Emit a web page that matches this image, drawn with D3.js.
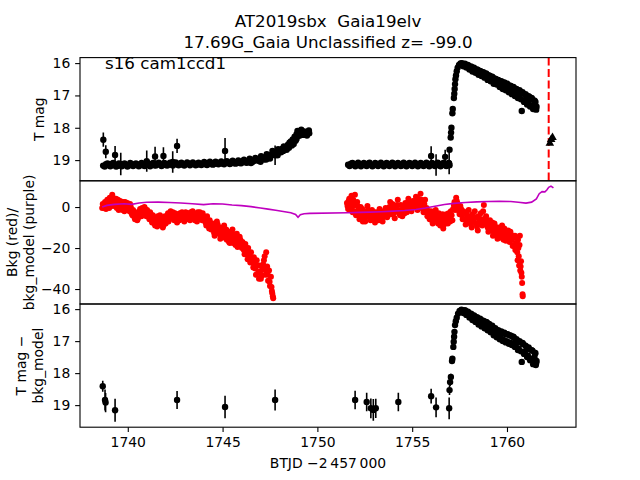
<!DOCTYPE html>
<html>
<head>
<meta charset="utf-8">
<script src="https://cdnjs.cloudflare.com/ajax/libs/d3/7.8.5/d3.min.js"></script>
<style>
  body { margin: 0; background: #fff; }
  text { font-family: "DejaVu Sans", sans-serif; white-space: pre; }
</style>
</head>
<body>
<div id="chart"></div>
<script>

// figure size and margins (matplotlib default subplot box)
const width = 640;
const height = 480;
const margin = {left: 80, right: 64, top: 57.6, bottom: 52.8};
const panelH = (height - margin.top - margin.bottom) / 3;

// text
const titleLines = ["AT2019sbx  Gaia19elv", "17.69G_Gaia Unclassified z= -99.0"];
const sectorLabel = "s16 cam1ccd1";
const xLabel = "BTJD \u22122\u2009457\u2009000";

// axis limits and ticks
const xLimits = [1737.48, 1763.64];
const xTicks = [1740, 1745, 1750, 1755, 1760];
const magLimits1 = [15.83, 19.64];
const bkgLimits = [-47.3, 12.8];
const magLimits3 = [15.84, 19.69];
const magTicks = [16, 17, 18, 19];
const bkgTicks = [0, -20, -40];
const vlineTime = 1762.2;

// panel 1: T mag, quiescent part of orbit 1  [t, mag]
const lcBaseA = [
  [1738.70,19.17],[1738.85,19.13],[1739.00,19.16],[1739.15,19.12],[1739.30,19.15],[1739.45,19.18],
  [1739.60,19.13],[1739.75,19.16],[1739.90,19.14],[1740.05,19.17],[1740.20,19.12],[1740.35,19.15],
  [1740.50,19.13],[1740.65,19.16],[1740.80,19.14],[1740.95,19.11],[1741.10,19.15],[1741.25,19.13],
  [1741.40,19.16],[1741.55,19.12],[1741.70,19.14],[1741.85,19.11],[1742.00,19.15],[1742.15,19.12],
  [1742.30,19.14],[1742.45,19.10],[1742.60,19.13],[1742.75,19.11],[1742.90,19.14],[1743.05,19.12],
  [1743.20,19.10],[1743.35,19.13],[1743.50,19.11],[1743.65,19.14],[1743.80,19.12],[1743.95,19.10],
  [1744.10,19.13],[1744.25,19.11],[1744.40,19.09],[1744.55,19.12],[1744.70,19.10],[1744.85,19.08],
  [1745.00,19.11],[1745.15,19.09],[1745.30,19.07],[1745.45,19.10],[1745.60,19.08],[1745.75,19.06],
  [1745.90,19.09],[1746.05,19.05],[1746.20,19.07],[1746.35,19.03],[1746.50,19.00],[1746.65,19.03],
  [1746.80,18.98],[1746.95,18.99],[1747.10,18.94],[1747.25,18.92],[1747.40,18.86],[1747.55,18.84],
  [1747.70,18.78],[1747.85,18.74],[1748.00,18.70],[1748.15,18.65],[1748.30,18.60],[1748.45,18.52],
  [1748.60,18.42],[1748.70,18.36],[1748.80,18.28],[1748.90,18.20],[1749.00,18.14],[1749.10,18.12],
  [1749.20,18.16],[1749.30,18.11],[1749.40,18.15],[1749.50,18.13],[1749.57,18.17],
  [1746.50,19.09],[1747.00,19.05],[1747.30,18.98],[1747.50,18.95],[1747.90,18.85],[1748.20,18.72],
  [1748.50,18.62],[1748.75,18.50],[1748.90,18.35],[1749.05,18.25],[1749.25,18.22],[1749.45,18.24]
];

const lcBaseA2 = [
  [1738.78,19.20],[1738.93,19.10],[1739.08,19.19],[1739.23,19.09],[1739.38,19.20],[1739.53,19.10],
  [1739.68,19.19],[1739.83,19.10],[1739.98,19.20],[1740.13,19.09],[1740.28,19.18],[1740.43,19.10],
  [1740.58,19.19],[1740.73,19.09],[1740.88,19.18],[1741.03,19.08],[1741.18,19.19],[1741.33,19.09],
  [1741.48,19.17],[1741.63,19.08],[1741.78,19.18],[1741.93,19.09],[1742.08,19.17],[1742.23,19.08],
  [1742.38,19.17],[1742.53,19.07],[1742.68,19.16],[1742.83,19.08],[1742.98,19.17],[1743.13,19.07],
  [1743.28,19.16],[1743.43,19.07],[1743.58,19.16],[1743.73,19.08],[1743.88,19.15],[1744.03,19.06],
  [1744.18,19.15],[1744.33,19.05],[1744.48,19.14],[1744.63,19.05],[1744.78,19.13],[1744.93,19.04],
  [1745.08,19.13],[1745.23,19.03],[1745.38,19.12],[1745.53,19.02],[1745.68,19.11],[1745.83,19.01],
  [1745.98,19.10],[1746.13,18.99],[1746.28,19.08],[1746.43,18.96],[1746.58,19.05],[1746.73,18.93],
  [1746.88,19.02],[1747.03,18.88],[1747.18,18.98],[1747.33,18.82],[1747.48,18.90],[1747.63,18.72],
  [1747.78,18.82],[1747.93,18.66],[1748.08,18.76],[1748.23,18.58],[1748.38,18.68],[1748.53,18.46],
  [1748.65,18.55],[1748.85,18.40],[1748.95,18.10],[1749.15,18.06],[1749.35,18.20],[1749.55,18.08]
];

// panel 1: quiescent part of orbit 2
const lcBaseB = [
  [1751.62,19.14],[1751.77,19.11],[1751.92,19.15],[1752.07,19.12],[1752.22,19.16],[1752.37,19.13],
  [1752.52,19.15],[1752.67,19.11],[1752.82,19.14],[1752.97,19.16],[1753.12,19.12],[1753.27,19.15],
  [1753.42,19.13],[1753.57,19.16],[1753.72,19.12],[1753.87,19.14],[1754.02,19.11],[1754.17,19.15],
  [1754.32,19.13],[1754.47,19.16],[1754.62,19.12],[1754.77,19.14],[1754.92,19.11],[1755.07,19.15],
  [1755.22,19.13],[1755.37,19.16],[1755.52,19.12],[1755.67,19.14],[1755.82,19.15],[1755.97,19.12],
  [1756.12,19.15],[1756.27,19.13],[1756.42,19.16],[1756.57,19.12],[1756.72,19.15],[1756.87,19.13],
  [1756.97,19.16]
];

const lcBaseB2 = [
  [1751.70,19.18],[1751.85,19.09],[1752.00,19.19],[1752.15,19.08],[1752.30,19.19],[1752.45,19.09],
  [1752.60,19.18],[1752.75,19.08],[1752.90,19.19],[1753.05,19.09],[1753.20,19.18],[1753.35,19.08],
  [1753.50,19.19],[1753.65,19.09],[1753.80,19.18],[1753.95,19.08],[1754.10,19.19],[1754.25,19.09],
  [1754.40,19.18],[1754.55,19.08],[1754.70,19.19],[1754.85,19.09],[1755.00,19.18],[1755.15,19.08],
  [1755.30,19.19],[1755.45,19.09],[1755.60,19.18],[1755.75,19.08],[1755.90,19.19],[1756.05,19.09],
  [1756.20,19.18],[1756.35,19.08],[1756.50,19.19],[1756.65,19.09],[1756.80,19.18],[1756.92,19.09]
];

// panel 1: outburst rise and decline
const lcBurst = [
  [1756.97,18.68],[1757.03,18.30],[1757.05,18.15],[1757.07,18.00],[1757.12,17.55],[1757.14,17.42],
  [1757.20,17.08],[1757.22,16.95],[1757.24,16.80],[1757.26,16.65],[1757.28,16.50],[1757.31,16.38],
  [1757.35,16.25],[1757.40,16.14],[1757.47,16.06],[1757.55,16.01],[1757.62,16.00],
  [1757.66,16.03],[1757.74,16.07],[1757.82,16.05],[1757.90,16.12],[1757.98,16.09],[1758.06,16.17],
  [1758.14,16.13],[1758.22,16.22],[1758.30,16.18],[1758.38,16.27],[1758.46,16.21],[1758.54,16.31],
  [1758.62,16.26],[1758.70,16.36],[1758.78,16.30],[1758.86,16.42],[1758.94,16.35],[1759.02,16.48],
  [1759.10,16.40],[1759.18,16.53],[1759.26,16.45],[1759.34,16.60],[1759.42,16.50],[1759.50,16.64],
  [1759.58,16.55],[1759.66,16.70],[1759.74,16.58],[1759.82,16.75],[1759.90,16.63],[1759.98,16.80],
  [1760.06,16.68],[1760.14,16.85],[1760.22,16.72],[1760.30,16.92],[1760.38,16.78],[1760.46,16.98],
  [1760.54,16.84],[1760.62,17.05],[1760.70,16.88],[1760.78,17.48],[1760.86,16.95],[1760.94,17.15],
  [1761.02,17.00],[1761.10,17.22],[1761.18,17.05],[1761.26,17.30],[1761.34,17.12],[1761.42,17.38],
  [1761.50,17.20],[1761.56,17.35]
];

const lcBurst2 = [
  [1757.70,16.10],[1757.78,16.02],[1757.86,16.14],[1757.94,16.06],[1758.02,16.20],[1758.10,16.10],
  [1758.18,16.26],[1758.26,16.14],[1758.34,16.30],[1758.42,16.20],[1758.50,16.36],[1758.58,16.24],
  [1758.66,16.40],[1758.74,16.28],[1758.82,16.45],[1758.90,16.32],[1758.98,16.52],[1759.06,16.38],
  [1759.14,16.56],[1759.22,16.42],[1759.30,16.64],[1759.38,16.48],[1759.46,16.66],[1759.54,16.52],
  [1759.62,16.74],[1759.70,16.56],[1759.78,16.80],[1759.86,16.60],[1759.94,16.84],[1760.02,16.64],
  [1760.10,16.90],[1760.18,16.70],[1760.26,16.96],[1760.34,16.74],[1760.42,17.02],[1760.50,16.80],
  [1760.58,17.08],[1760.66,16.84],[1760.74,17.12],[1760.82,16.90],[1760.90,17.20],[1760.98,16.96],
  [1761.06,17.28],[1761.14,17.02],[1761.22,17.34],[1761.30,17.08],[1761.38,17.42],[1761.46,17.16],
  [1761.54,17.44]
];

// panel 1: points with visible error bars  [t, mag, err]
const lcErrPts = [
  [1738.71,18.37,0.22],[1738.84,18.74,0.20],[1739.33,18.84,0.28],[1739.63,19.12,0.35],
  [1741.00,19.03,0.33],[1741.44,18.89,0.30],[1741.88,18.87,0.27],[1742.37,19.06,0.33],
  [1742.60,18.56,0.22],[1745.13,18.72,0.40],[1747.77,18.85,0.30],
  [1756.00,18.87,0.30],[1756.26,19.15,0.33],[1756.74,18.90,0.22],[1756.95,19.10,0.34]
];

// panel 1: upper limits (triangles)
const lcLimits = [[1762.26,18.48],[1762.33,18.36],[1762.40,18.30]];

// panel 2: background flux (red)  [t, value]
const bkgA = [
  [1738.65,-0.5],[1738.72,1.0],[1738.80,2.5],[1738.85,-1.0],[1738.92,3.5],[1739.00,1.0],[1739.05,4.5],
  [1739.12,2.0],[1739.18,6.0],[1739.25,3.0],[1739.30,0.5],[1739.38,4.0],[1739.45,1.5],[1739.52,-1.5],
  [1739.60,3.0],[1739.68,0.0],[1739.75,2.5],[1739.82,-2.0],[1739.90,1.0],[1739.98,2.0],[1740.05,-0.5],
  [1740.12,1.5],[1740.20,-3.0],[1740.28,-1.5],[1740.35,-5.0],[1740.42,-2.5],[1740.50,-6.5],[1740.58,-3.5],
  [1740.65,-1.0],[1740.72,-4.5],[1740.80,-2.0],[1740.88,0.0],[1740.95,-3.0],[1741.02,-1.5],[1741.10,-4.5],
  [1741.18,-2.5],[1741.25,-6.0],[1741.32,-4.0],[1741.40,-8.0],[1741.48,-5.5],[1741.55,-9.5],[1741.62,-6.5],
  [1741.70,-4.0],[1741.78,-8.5],[1741.85,-10.0],[1741.92,-6.0],[1742.00,-8.0],[1742.08,-4.5],[1742.15,-7.0],
  [1742.22,-3.0],[1742.30,-5.5],[1742.38,-2.5],[1742.45,-6.5],[1742.52,-4.0],[1742.60,-7.5],[1742.68,-5.0],
  [1742.75,-3.0],[1742.82,-6.0],[1742.90,-4.0],[1742.98,-7.0],[1743.05,-2.5],[1743.12,-5.0],[1743.20,-3.5],
  [1743.28,-6.5],[1743.35,-4.5],[1743.42,-2.0],[1743.50,-5.5],[1743.58,-3.5],[1743.65,-7.0],[1743.72,-4.0],
  [1743.80,-2.5],[1743.88,-6.0],[1743.95,-3.0],[1744.02,-5.0],[1744.10,-7.5],[1744.18,-4.5],[1744.25,-9.0],
  [1744.32,-6.5],[1744.40,-11.0],[1744.48,-8.0],[1744.55,-12.5],[1744.62,-9.5],[1744.70,-7.0],[1744.78,-13.0],
  [1744.85,-10.0],[1744.92,-14.5],[1745.00,-11.5],[1745.08,-9.0],[1745.15,-13.5],[1745.22,-16.0],[1745.30,-12.0],
  [1745.38,-17.5],[1745.45,-14.0],[1745.52,-11.0],[1745.60,-15.5],[1745.68,-18.5],[1745.75,-13.0],[1745.82,-16.5],
  [1745.90,-14.5],[1745.98,-19.0],[1746.05,-17.0],[1746.12,-21.0],[1746.20,-18.0],[1746.28,-23.0],[1746.35,-20.0],
  [1746.42,-25.0],[1746.50,-22.0],[1746.58,-27.0],[1746.65,-24.5],[1746.72,-30.0],[1746.80,-26.0],[1746.88,-32.0],
  [1746.95,-28.5],[1747.02,-35.0],[1747.10,-30.5],[1747.18,-26.0],[1747.25,-33.0],[1747.30,-22.0],[1747.35,-29.0],
  [1747.40,-36.0],[1747.45,-31.0],[1747.50,-38.5],[1747.55,-34.0],[1747.60,-41.0],[1747.65,-43.5],[1747.67,-44.5]
];

const bkgA2 = [
  [1738.68,1.5],[1738.76,-0.5],[1738.88,0.5],[1738.96,2.0],[1739.02,-0.5],[1739.09,3.5],[1739.15,0.5],
  [1739.22,4.5],[1739.28,1.5],[1739.35,2.5],[1739.42,-0.5],[1739.48,3.5],[1739.56,0.5],[1739.64,1.5],
  [1739.72,-1.5],[1739.78,0.5],[1739.86,2.5],[1739.94,-1.0],[1740.02,0.5],[1740.09,-2.0],[1740.16,0.0],
  [1740.24,-4.0],[1740.32,-2.5],[1740.38,-6.0],[1740.46,-4.0],[1740.54,-5.5],[1740.62,-2.0],[1740.69,-3.0],
  [1740.76,-0.5],[1740.84,-3.5],[1740.92,-1.0],[1740.98,-4.5],[1741.06,-3.0],[1741.14,-6.0],[1741.21,-3.5],
  [1741.28,-7.5],[1741.36,-5.0],[1741.44,-9.0],[1741.51,-7.0],[1741.58,-4.5],[1741.66,-8.0],[1741.74,-5.5],
  [1741.81,-7.0],[1741.88,-9.0],[1741.96,-4.5],[1742.04,-6.5],[1742.12,-3.0],[1742.19,-5.5],[1742.26,-2.0],
  [1742.34,-4.5],[1742.42,-6.0],[1742.49,-3.0],[1742.56,-5.5],[1742.64,-3.5],[1742.72,-6.5],[1742.79,-4.5],
  [1742.86,-2.5],[1742.94,-5.5],[1743.02,-4.0],[1743.09,-6.0],[1743.16,-3.0],[1743.24,-5.0],[1743.32,-2.5],
  [1743.39,-5.5],[1743.46,-3.5],[1743.54,-6.5],[1743.62,-5.0],[1743.69,-2.5],[1743.76,-5.5],[1743.84,-4.0],
  [1743.92,-6.5],[1743.98,-4.5],[1744.06,-6.0],[1744.14,-9.0],[1744.22,-6.5],[1744.29,-10.5],[1744.36,-8.0],
  [1744.44,-9.5],[1744.52,-11.0],[1744.58,-14.0],[1744.66,-11.5],[1744.74,-8.5],[1744.82,-12.0],[1744.88,-15.5],
  [1744.96,-13.0],[1745.04,-10.0],[1745.12,-15.0],[1745.19,-11.0],[1745.26,-14.5],[1745.34,-17.0],[1745.42,-15.5],
  [1745.49,-12.5],[1745.56,-17.5],[1745.64,-14.0],[1745.72,-16.0],[1745.79,-19.5],[1745.86,-18.0],[1745.94,-16.0],
  [1746.02,-20.0],[1746.09,-18.5],[1746.16,-23.0],[1746.24,-20.5],[1746.32,-25.5],[1746.38,-22.5],[1746.46,-27.0],
  [1746.54,-24.5],[1746.62,-29.5],[1746.69,-27.0],[1746.76,-33.0],[1746.84,-28.5],[1746.92,-35.0],[1746.98,-31.5],
  [1747.06,-33.5],[1747.14,-28.0],[1747.22,-24.0],[1747.28,-30.5],[1747.38,-33.0],[1747.48,-36.5],[1747.58,-39.0],
  [1747.62,-42.0]
];

const bkgB = [
  [1751.56,2.0],[1751.62,-1.0],[1751.68,4.0],[1751.74,0.5],[1751.80,5.5],[1751.86,-2.5],[1751.92,1.5],
  [1751.98,6.0],[1752.04,-4.0],[1752.10,2.5],[1752.16,-1.5],[1752.22,-6.0],[1752.28,0.0],[1752.34,-3.5],
  [1752.40,-7.0],[1752.48,-2.0],[1752.56,-5.0],[1752.64,0.5],[1752.72,-3.0],[1752.80,-6.5],[1752.88,-1.5],
  [1752.96,-4.5],[1753.04,-7.5],[1753.12,-2.5],[1753.20,-5.5],[1753.28,-1.0],[1753.36,-4.0],[1753.44,-7.0],
  [1753.52,-3.0],[1753.60,-0.5],[1753.68,-5.0],[1753.76,-2.0],[1753.84,2.5],[1753.92,-3.5],[1754.00,0.0],
  [1754.08,-5.5],[1754.16,-1.5],[1754.24,3.5],[1754.32,-3.0],[1754.40,1.0],[1754.48,-4.5],[1754.56,-1.0],
  [1754.64,2.0],[1754.72,-2.5],[1754.80,4.0],[1754.88,0.5],[1754.96,-2.0],[1755.04,3.0],[1755.12,0.0],
  [1755.20,5.0],[1755.28,-1.5],[1755.36,2.5],[1755.44,6.5],[1755.52,0.5],[1755.60,-2.5],[1755.68,3.5],
  [1755.76,-0.5],[1755.84,-3.5],[1755.92,-6.0],[1756.00,-2.0],[1756.08,-8.0],[1756.16,-4.5],[1756.24,-1.5],
  [1756.32,-6.5],[1756.40,-3.0],[1756.48,-9.0],[1756.56,-5.5],[1756.64,-10.5],[1756.72,-7.0],[1756.80,-3.5],
  [1756.88,-8.0],[1756.96,-5.0],[1757.04,-2.0],[1757.12,-6.5],[1757.20,1.0],[1757.26,-1.5],[1757.32,4.5],
  [1757.38,2.0],[1757.44,-0.5],[1757.50,-3.5],[1757.58,-1.0],[1757.66,-6.0],[1757.74,-3.0],[1757.82,-8.5],
  [1757.90,-4.5],[1757.98,-1.5],[1758.06,-7.0],[1758.14,-10.0],[1758.22,-5.0],[1758.30,-2.0],[1758.38,-8.0],
  [1758.46,-11.5],[1758.54,-6.0],[1758.62,-3.0],[1758.70,-9.0],[1758.78,1.0],[1758.86,-5.5],[1758.94,-8.5],
  [1759.02,-12.0],[1759.10,-6.5],[1759.18,-9.5],[1759.26,-14.0],[1759.34,-8.0],[1759.42,-11.5],[1759.50,-15.5],
  [1759.58,-10.0],[1759.66,-13.0],[1759.74,-9.0],[1759.82,-16.0],[1759.90,-12.0],[1759.98,-14.5],[1760.06,-11.5],
  [1760.14,-17.0],[1760.22,-13.5],[1760.30,-19.0],[1760.38,-15.0],[1760.44,-21.0],[1760.50,-17.5],[1760.56,-26.0],
  [1760.60,-20.0],[1760.64,-28.5],[1760.68,-14.0],[1760.70,-31.0],[1760.74,-26.5],[1760.78,-34.0],[1760.80,-37.0],
  [1760.82,-42.5],[1760.83,-43.5]
];

const bkgB2 = [
  [1751.59,0.5],[1751.65,3.0],[1751.71,-1.5],[1751.77,2.5],[1751.83,0.0],[1751.89,3.5],[1751.95,-2.0],
  [1752.01,1.0],[1752.07,-2.5],[1752.13,0.5],[1752.19,-4.0],[1752.25,-2.0],[1752.31,-5.0],[1752.37,-1.0],
  [1752.44,-4.5],[1752.52,-7.0],[1752.60,-3.0],[1752.68,-1.5],[1752.76,-5.0],[1752.84,-3.5],[1752.92,-6.0],
  [1753.00,-2.5],[1753.08,-5.0],[1753.16,-4.0],[1753.24,-6.5],[1753.32,-3.0],[1753.40,-5.5],[1753.48,-2.0],
  [1753.56,-4.5],[1753.64,-2.5],[1753.72,-4.0],[1753.80,0.0],[1753.88,-1.5],[1753.96,1.5],[1754.04,-3.0],
  [1754.12,-1.0],[1754.20,1.0],[1754.28,-1.5],[1754.36,-4.0],[1754.44,-2.0],[1754.52,0.5],[1754.60,-3.0],
  [1754.68,0.0],[1754.76,2.0],[1754.84,-1.5],[1754.92,2.5],[1755.00,-0.5],[1755.08,1.5],[1755.16,3.0],
  [1755.24,0.5],[1755.32,4.0],[1755.40,1.0],[1755.48,3.5],[1755.56,-1.0],[1755.64,1.5],[1755.72,-2.0],
  [1755.80,-4.5],[1755.88,-2.0],[1755.96,-4.0],[1756.04,-6.5],[1756.12,-3.5],[1756.20,-6.0],[1756.28,-3.5],
  [1756.36,-8.0],[1756.44,-5.0],[1756.52,-7.5],[1756.60,-3.5],[1756.68,-8.5],[1756.76,-5.5],[1756.84,-6.5],
  [1756.92,-3.0],[1757.00,-7.0],[1757.08,-4.0],[1757.16,-1.0],[1757.23,2.5],[1757.29,0.0],[1757.35,3.0],
  [1757.41,0.5],[1757.47,-2.0],[1757.54,0.5],[1757.62,-4.0],[1757.70,-2.0],[1757.78,-6.0],[1757.86,-3.0],
  [1757.94,-7.0],[1758.02,-4.5],[1758.10,-8.5],[1758.18,-3.5],[1758.26,-7.0],[1758.34,-5.0],[1758.42,-9.5],
  [1758.50,-4.5],[1758.58,-8.0],[1758.66,-6.0],[1758.74,-2.0],[1758.82,-7.0],[1758.90,-4.5],[1758.98,-10.0],
  [1759.06,-8.0],[1759.14,-11.0],[1759.22,-7.5],[1759.30,-12.0],[1759.38,-9.5],[1759.46,-13.5],[1759.54,-12.0],
  [1759.62,-15.0],[1759.70,-11.0],[1759.78,-13.5],[1759.86,-10.5],[1759.94,-16.5],[1760.02,-13.0],[1760.10,-15.5],
  [1760.18,-12.0],[1760.26,-16.0],[1760.34,-18.5],[1760.42,-14.0],[1760.48,-19.5],[1760.54,-22.0],[1760.58,-16.0],
  [1760.62,-24.0],[1760.66,-18.5],[1760.72,-29.0],[1760.76,-32.0]
];

// panel 2: background model (purple line)
const bkgModel = [
  [1738.65,0.0],[1738.9,0.8],[1739.3,1.3],[1739.8,1.6],[1740.2,1.3],[1740.6,2.0],[1741.0,2.3],[1741.6,2.4],
  [1742.2,2.2],[1742.8,2.0],[1743.4,1.6],[1744.0,1.2],[1744.5,1.6],[1745.0,1.5],[1745.5,1.0],[1746.0,0.7],
  [1746.5,0.2],[1747.0,-0.5],[1747.4,-1.0],[1747.8,-1.6],[1748.2,-2.2],[1748.6,-2.8],[1748.85,-3.6],
  [1748.98,-5.0],[1749.1,-3.8],[1749.3,-3.3],[1749.6,-3.1],[1751.6,-2.8],[1752.2,-2.6],[1752.8,-2.5],
  [1753.4,-2.3],[1754.0,-2.0],[1754.6,-1.7],[1755.2,-1.2],[1755.7,-0.5],[1756.2,0.4],[1756.7,1.2],
  [1757.2,1.8],[1757.8,2.2],[1758.4,2.5],[1759.0,2.7],[1759.6,2.8],[1760.2,2.7],[1760.6,2.3],[1761.0,1.9],
  [1761.3,2.4],[1761.55,4.0],[1761.7,6.5],[1761.85,7.5],[1762.0,7.4],[1762.1,8.3],[1762.2,9.6],
  [1762.32,10.2],[1762.45,9.3]
];

// panel 3: T mag - bkg_model, points with error bars  [t, mag, err]
const diffErrPts = [
  [1738.68,18.41,0.17],[1738.80,18.84,0.33],[1738.83,18.92,0.30],[1739.33,19.16,0.36],
  [1742.60,18.84,0.28],[1745.13,19.06,0.35],[1747.77,18.84,0.33],[1751.99,18.84,0.29],
  [1752.60,18.90,0.29],[1752.82,19.10,0.31],[1752.95,19.15,0.34],[1753.08,19.10,0.30],
  [1754.27,18.90,0.29],[1756.00,18.72,0.23],[1756.26,19.07,0.31],[1756.95,19.10,0.34],
  [1756.97,18.53,0.15],[1757.00,18.28,0.12],[1757.04,18.12,0.10]
];

// panel 3: outburst
const diffBurst = [
  [1757.10,17.62],[1757.12,17.55],[1757.17,17.18],[1757.19,17.02],[1757.21,16.86],[1757.23,16.71],
  [1757.26,16.50],[1757.30,16.38],[1757.35,16.27],[1757.42,16.14],[1757.50,16.06],[1757.60,16.02],
  [1757.66,16.04],[1757.74,16.09],[1757.82,16.06],[1757.90,16.16],[1757.98,16.11],[1758.06,16.25],
  [1758.14,16.17],[1758.22,16.30],[1758.30,16.23],[1758.38,16.36],[1758.46,16.28],[1758.54,16.45],
  [1758.62,16.33],[1758.70,16.50],[1758.78,16.38],[1758.86,16.56],[1758.94,16.42],[1759.02,16.62],
  [1759.10,16.50],[1759.18,16.68],[1759.26,16.58],[1759.34,16.78],[1759.42,16.64],[1759.50,16.84],
  [1759.58,16.70],[1759.66,16.90],[1759.74,16.74],[1759.82,16.96],[1759.90,16.78],[1759.98,17.00],
  [1760.06,16.80],[1760.14,17.04],[1760.22,16.84],[1760.30,17.08],[1760.38,16.90],[1760.46,17.14],
  [1760.54,16.98],[1760.62,17.24],[1760.70,17.04],[1760.78,17.65],[1760.86,17.10],[1760.94,17.34],
  [1761.02,17.18],[1761.10,17.45],[1761.18,17.25],[1761.26,17.55],[1761.34,17.30],[1761.42,17.68],
  [1761.50,17.38],[1761.56,17.62],[1761.52,17.75],[1761.45,17.50]
];

const diffBurst2 = [
  [1757.70,16.12],[1757.78,16.03],[1757.86,16.18],[1757.94,16.08],[1758.02,16.26],[1758.10,16.14],
  [1758.18,16.34],[1758.26,16.20],[1758.34,16.40],[1758.42,16.25],[1758.50,16.48],[1758.58,16.30],
  [1758.66,16.54],[1758.74,16.36],[1758.82,16.60],[1758.90,16.40],[1758.98,16.66],[1759.06,16.46],
  [1759.14,16.72],[1759.22,16.52],[1759.30,16.82],[1759.38,16.60],[1759.46,16.88],[1759.54,16.66],
  [1759.62,16.94],[1759.70,16.70],[1759.78,17.00],[1759.86,16.74],[1759.94,17.04],[1760.02,16.78],
  [1760.10,17.08],[1760.18,16.82],[1760.26,17.12],[1760.34,16.86],[1760.42,17.18],[1760.50,16.94],
  [1760.58,17.28],[1760.66,17.00],[1760.74,17.32],[1760.82,17.06],[1760.90,17.40],[1760.98,17.14],
  [1761.06,17.50],[1761.14,17.20],[1761.22,17.60],[1761.30,17.28],[1761.38,17.72],[1761.46,17.36],
  [1761.54,17.68]
];

const tickLen = 4.86;
const fontTick = "13.9px";
const fontTitle = "16.7px";

const svg = d3.select("#chart")
  .append("svg")
  .attr("width", width)
  .attr("height", height);

svg.append("rect").attr("width", width).attr("height", height).attr("fill", "#fff");

// shared x scale
const xScale = d3.scaleLinear()
  .domain(xLimits)
  .range([margin.left, width - margin.right]);

const top1 = margin.top;
const top2 = margin.top + panelH;
const top3 = margin.top + 2 * panelH;

// magnitudes go downward (inverted)
const y1 = d3.scaleLinear().domain(magLimits1).range([top1, top1 + panelH]);
const y2 = d3.scaleLinear().domain(bkgLimits).range([top2 + panelH, top2]);
const y3 = d3.scaleLinear().domain(magLimits3).range([top3, top3 + panelH]);

// clip each panel to its box
[top1, top2, top3].forEach((t, i) => {
  svg.append("clipPath").attr("id", "clip" + i)
    .append("rect")
    .attr("x", margin.left).attr("y", t)
    .attr("width", width - margin.left - margin.right).attr("height", panelH);
});

const p1 = svg.append("g").attr("clip-path", "url(#clip0)");
const p2 = svg.append("g").attr("clip-path", "url(#clip1)");
const p3 = svg.append("g").attr("clip-path", "url(#clip2)");

// helper: error bars then dots
function errBars(g, data, y) {
  g.selectAll(null)
    .data(data)
    .enter()
    .append("line")
      .attr("x1", d => xScale(d[0]))
      .attr("x2", d => xScale(d[0]))
      .attr("y1", d => y(d[1] - d[2]))
      .attr("y2", d => y(d[1] + d[2]))
      .attr("stroke", "#000")
      .attr("stroke-width", 1.6);
}

function dots(g, data, y, color, r) {
  g.selectAll(null)
    .data(data)
    .enter()
    .append("circle")
      .attr("cx", d => xScale(d[0]))
      .attr("cy", d => y(d[1]))
      .attr("r", r)
      .attr("fill", color);
}

/* panel 1 */
errBars(p1, lcErrPts, y1);
dots(p1, lcBaseA, y1, "#000", 3.2);
dots(p1, lcBaseA2, y1, "#000", 3.2);
dots(p1, lcBaseB, y1, "#000", 3.2);
dots(p1, lcBaseB2, y1, "#000", 3.2);
dots(p1, lcBurst, y1, "#000", 3.2);
dots(p1, lcBurst2, y1, "#000", 3.2);
dots(p1, lcErrPts, y1, "#000", 3.2);

p1.append("line")
  .attr("x1", xScale(vlineTime)).attr("x2", xScale(vlineTime))
  .attr("y1", top1).attr("y2", top1 + panelH)
  .attr("stroke", "#ff0000")
  .attr("stroke-width", 2)
  .attr("stroke-dasharray", "8,3.5");

p1.selectAll(null)
  .data(lcLimits)
  .enter()
  .append("path")
    .attr("d", d3.symbol(d3.symbolTriangle).size(32))
    .attr("transform", d => `translate(${xScale(d[0])},${y1(d[1])})`)
    .attr("fill", "#000");

/* panel 2 */
dots(p2, bkgA, y2, "#ff0000", 3);
dots(p2, bkgA2, y2, "#ff0000", 3);
dots(p2, bkgB, y2, "#ff0000", 3);
dots(p2, bkgB2, y2, "#ff0000", 3);

p2.append("path")
  .datum(bkgModel)
  .attr("fill", "none")
  .attr("stroke", "#bf00bf")
  .attr("stroke-width", 1.6)
  .attr("d", d3.line().x(d => xScale(d[0])).y(d => y2(d[1])));

/* panel 3 */
errBars(p3, diffErrPts, y3);
dots(p3, diffErrPts, y3, "#000", 3.2);
dots(p3, diffBurst, y3, "#000", 3.2);
dots(p3, diffBurst2, y3, "#000", 3.2);

/* axes */
function yAxis(scale, ticks) {
  const g = svg.append("g")
    .attr("transform", `translate(${margin.left},0)`)
    .call(d3.axisLeft(scale).tickValues(ticks).tickFormat(d3.format("d"))
      .tickSize(tickLen).tickPadding(4.86));
  g.select(".domain").remove();
  g.selectAll("line").attr("stroke", "#000").attr("stroke-width", 1.1);
  g.selectAll("text").attr("font-size", fontTick).attr("fill", "#000")
    .attr("font-family", "DejaVu Sans");
}
yAxis(y1, magTicks);
yAxis(y2, bkgTicks);
yAxis(y3, magTicks);

const xAxis = svg.append("g")
  .attr("transform", `translate(0,${top3 + panelH})`)
  .call(d3.axisBottom(xScale).tickValues(xTicks).tickFormat(d3.format("d"))
    .tickSize(tickLen).tickPadding(4.86));
xAxis.select(".domain").remove();
xAxis.selectAll("line").attr("stroke", "#000").attr("stroke-width", 1.1);
xAxis.selectAll("text").attr("font-size", fontTick).attr("fill", "#000")
  .attr("font-family", "DejaVu Sans");

// panel frames
[top1, top2, top3].forEach(t => {
  svg.append("rect")
    .attr("x", margin.left).attr("y", t)
    .attr("width", width - margin.left - margin.right).attr("height", panelH)
    .attr("fill", "none")
    .attr("stroke", "#000")
    .attr("stroke-width", 1.1);
});

/* labels */
const midX = (margin.left + width - margin.right) / 2;

svg.selectAll(".title")
  .data(titleLines)
  .enter()
  .append("text")
    .attr("class", "title")
    .attr("x", midX)
    .attr("y", (d, i) => 26.7 + i * 21.6)
    .attr("text-anchor", "middle")
    .attr("font-size", fontTitle)
    .attr("xml:space", "preserve")
    .text(d => d);

svg.append("text")
  .attr("x", 105)
  .attr("y", 68.5)
  .attr("font-size", fontTitle)
  .text(sectorLabel);

svg.append("text")
  .attr("x", midX)
  .attr("y", 468)
  .attr("text-anchor", "middle")
  .attr("font-size", fontTick)
  .text(xLabel);

// rotated y labels: [baseline x, panel centre, text]
const yLabels = [
  [43.5, top1 + panelH / 2, "T mag"],
  [17, top2 + panelH / 2, "Bkg (red)/"],
  [33.7, top2 + panelH / 2, "bkg_model (purple)"],
  [26.3, top3 + panelH / 2, "T mag \u2212"],
  [43, top3 + panelH / 2, "bkg_model"]
];

svg.selectAll(".ylab")
  .data(yLabels)
  .enter()
  .append("text")
    .attr("class", "ylab")
    .attr("transform", d => `translate(${d[0]},${d[1]}) rotate(-90)`)
    .attr("text-anchor", "middle")
    .attr("font-size", fontTick)
    .text(d => d[2]);

</script>
</body>
</html>
